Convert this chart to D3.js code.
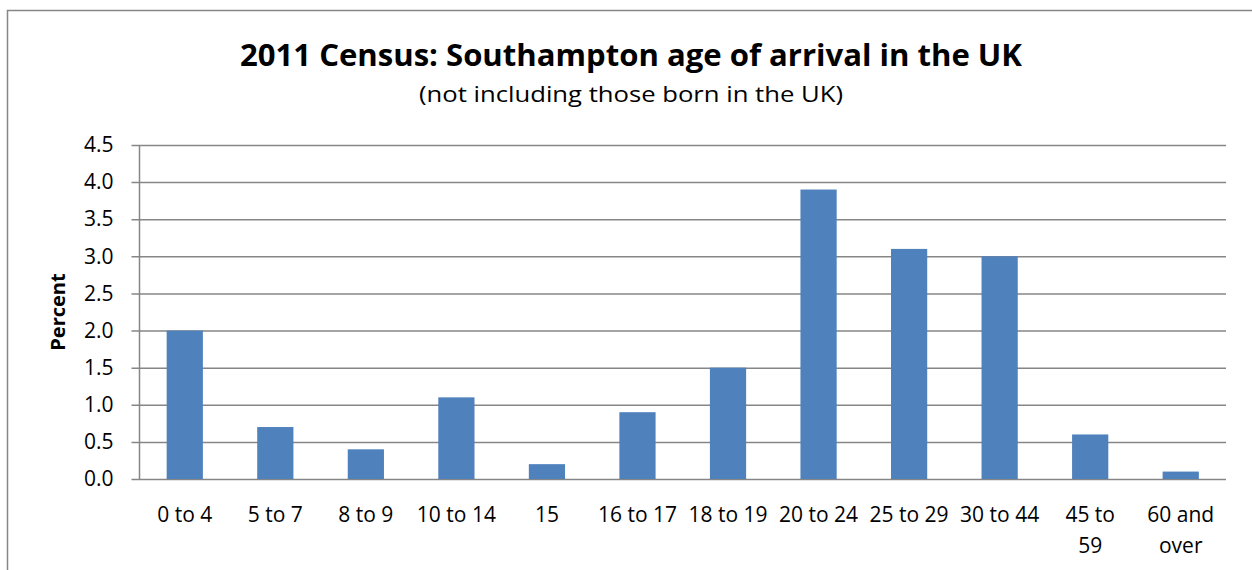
<!DOCTYPE html>
<html>
<head>
<meta charset="utf-8">
<script src="https://cdn.jsdelivr.net/npm/d3@7"></script>
<style>
  body { margin: 0; background: #fff; }
  text { font-family: "Open Sans", "DejaVu Sans", sans-serif; fill: #000; }
</style>
</head>
<body>
<div id="chart"></div>
<script>
// data
var categories = ["0 to 4", "5 to 7", "8 to 9", "10 to 14", "15", "16 to 17",
                  "18 to 19", "20 to 24", "25 to 29", "30 to 44", "45 to 59", "60 and over"];
var percents = [2.0, 0.7, 0.4, 1.1, 0.2, 0.9, 1.5, 3.9, 3.1, 3.0, 0.6, 0.1];
var yTicks = [0, 0.5, 1, 1.5, 2, 2.5, 3, 3.5, 4, 4.5];
// labels Excel wrapped onto two lines
var wrapped = { "45 to 59": ["45 to", "59"], "60 and over": ["60 and", "over"] };

var svgWidth = 1252;
var svgHeight = 570;

var margin = { top: 145, right: 26, bottom: 91, left: 139.5 };
var width = svgWidth - margin.left - margin.right;
var height = svgHeight - margin.top - margin.bottom;

var svg = d3.select("#chart")
  .append("svg")
  .attr("width", svgWidth)
  .attr("height", svgHeight);

// outer frame (runs off right and bottom edges)
svg.append("rect")
  .attr("x", 7.5)
  .attr("y", 10.5)
  .attr("width", 1260)
  .attr("height", 600)
  .attr("fill", "none")
  .attr("stroke", "#868686")
  .attr("stroke-width", 1.5);

svg.append("text")
  .attr("x", 631)
  .attr("y", 66)
  .attr("text-anchor", "middle")
  .attr("font-size", 31)
  .attr("font-weight", "bold")
  .attr("textLength", 782)
  .attr("lengthAdjust", "spacingAndGlyphs")
  .text("2011 Census: Southampton age of arrival in the UK");

svg.append("text")
  .attr("x", 631)
  .attr("y", 102)
  .attr("text-anchor", "middle")
  .attr("font-size", 22)
  .attr("textLength", 424)
  .attr("lengthAdjust", "spacingAndGlyphs")
  .text("(not including those born in the UK)");

var chartGroup = svg.append("g")
  .attr("transform", `translate(${margin.left}, ${margin.top})`);

var xScale = d3.scaleBand()
  .domain(categories)
  .range([0, width])
  .paddingInner(0.6)
  .paddingOuter(0.3);

var yScale = d3.scaleLinear()
  .domain([0, 4.5])
  .range([height, 0]);

// gridlines + left ticks
var leftAxis = d3.axisLeft(yScale)
  .tickValues(yTicks)
  .tickSize(-width - 8)
  .tickFormat(d3.format(".1f"));

var yAxis = chartGroup.append("g")
  .attr("transform", "translate(-8,0)")
  .call(leftAxis);

yAxis.select(".domain").remove();
yAxis.selectAll(".tick line")
  .attr("stroke", "#868686")
  .attr("stroke-width", 1.5);
yAxis.selectAll(".tick text")
  .attr("font-size", 21)
  .attr("font-family", "Open Sans, sans-serif")
  .attr("x", -18);

// vertical axis line
chartGroup.append("line")
  .attr("x1", 0).attr("x2", 0)
  .attr("y1", 0).attr("y2", height)
  .attr("stroke", "#868686")
  .attr("stroke-width", 1.5);

chartGroup.selectAll("rect.bar")
  .data(percents)
  .enter()
  .append("rect")
  .attr("class", "bar")
  .attr("x", (d, i) => xScale(categories[i]))
  .attr("y", d => yScale(d))
  .attr("width", xScale.bandwidth())
  .attr("height", d => height - yScale(d))
  .attr("fill", "#4F81BD");

// category labels
var labels = chartGroup.selectAll("text.cat")
  .data(categories)
  .enter()
  .append("text")
  .attr("class", "cat")
  .attr("text-anchor", "middle")
  .attr("font-size", 21)
  .attr("x", d => xScale(d) + xScale.bandwidth() / 2)
  .attr("y", height + 43);

labels.each(function(d) {
  var lines = wrapped[d] || [d];
  var t = d3.select(this);
  lines.forEach((ln, i) => {
    t.append("tspan")
      .attr("x", xScale(d) + xScale.bandwidth() / 2)
      .attr("dy", i === 0 ? 0 : 31)
      .text(ln);
  });
});

// y axis title
svg.append("text")
  .attr("transform", `translate(65, ${margin.top + height / 2}) rotate(-90)`)
  .attr("text-anchor", "middle")
  .attr("font-size", 20)
  .attr("font-weight", "bold")
  .text("Percent");
</script>
</body>
</html>
